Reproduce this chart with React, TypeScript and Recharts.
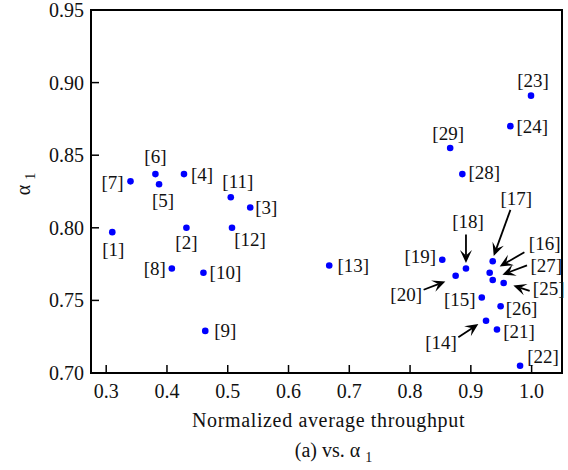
import React from 'react';
import { ScatterChart, Scatter, XAxis, YAxis, ReferenceArea } from 'recharts';

// scheme number, normalized average throughput, alpha_1
const schemeIds = [1, 2, 3, 4, 5, 6, 7, 8, 9, 10, 11, 12, 13, 14, 15, 16, 17, 18, 19, 20, 21, 22, 23, 24, 25, 26, 27, 28, 29];
const throughput = [0.310, 0.432, 0.537, 0.428, 0.387, 0.381, 0.340, 0.408, 0.463, 0.460, 0.505, 0.507, 0.667, 0.925, 0.918, 0.931, 0.936, 0.892, 0.853, 0.875, 0.943, 0.981, 0.999, 0.965, 0.954, 0.949, 0.936, 0.886, 0.866];
const alpha1 = [0.797, 0.800, 0.814, 0.837, 0.830, 0.837, 0.832, 0.772, 0.729, 0.769, 0.821, 0.800, 0.774, 0.736, 0.752, 0.769, 0.777, 0.772, 0.778, 0.767, 0.730, 0.705, 0.891, 0.870, 0.762, 0.746, 0.764, 0.837, 0.855];

const xTicks = [0.3, 0.4, 0.5, 0.6, 0.7, 0.8, 0.9, 1.0];
const yTicks = [0.70, 0.75, 0.80, 0.85, 0.90, 0.95];

// label placement (pixels from the dot) and optional arrows [x0, y0, x1, y1]
const labelPlacement: Record<number, { dx: number; dy: number; arrow?: number[] }> = {
  1: { dx: 1, dy: 17 },
  2: { dx: 0, dy: 15 },
  3: { dx: 16, dy: 0 },
  4: { dx: 18, dy: 0 },
  5: { dx: 4, dy: 16 },
  6: { dx: 0, dy: -18 },
  7: { dx: -18, dy: 1 },
  8: { dx: -17, dy: 0 },
  9: { dx: 20, dy: 0 },
  10: { dx: 22, dy: 0 },
  11: { dx: 7, dy: -16 },
  12: { dx: 18, dy: 12 },
  13: { dx: 24, dy: 0 },
  14: { dx: -45, dy: 22, arrow: [-27.7, 16.6, -7.7, 3.3] },
  15: { dx: -22, dy: 2 },
  16: { dx: 55, dy: -29, arrow: [34.7, -20.6, 10, -6.3] },
  17: { dx: 23.5, dy: -63, arrow: [17.7, -51.3, 1, -5.3] },
  18: { dx: 2, dy: -47, arrow: [0, -34, 0, -5.5] },
  19: { dx: -22, dy: -3 },
  20: { dx: -49.5, dy: 18.7, arrow: [-32, 14, -10.3, 5.7] },
  21: { dx: 22, dy: 2 },
  22: { dx: 23, dy: -9 },
  23: { dx: 2, dy: -15 },
  24: { dx: 22, dy: 0 },
  25: { dx: 45, dy: 5.3, arrow: [26, 8, 9.7, 2.5] },
  26: { dx: 21, dy: 2 },
  27: { dx: 53.5, dy: -14.7, arrow: [34.3, -14.7, 9.7, -5.4] },
  28: { dx: 22, dy: -2 },
  29: { dx: -2, dy: -14 },
};

const points = schemeIds.map((id, i) => ({ id, x: throughput[i], y: alpha1[i] }));

const serif = { fontFamily: '"Liberation Serif", "Times New Roman", Times, serif' };

const Arrow = ({ x0, y0, x1, y1 }: { x0: number; y0: number; x1: number; y1: number }) => {
  const len = Math.hypot(x1 - x0, y1 - y0);
  const ux = (x1 - x0) / len;
  const uy = (y1 - y0) / len;
  const px = -uy;
  const py = ux;
  const headLen = 13;
  const half = 6;
  const notch = 7.5;
  const bx = x1 - ux * headLen;
  const by = y1 - uy * headLen;
  const nx = x1 - ux * notch;
  const ny = y1 - uy * notch;
  return (
    <g>
      <line x1={x0} y1={y0} x2={nx} y2={ny} stroke="#000" strokeWidth={1.8} />
      <polygon
        points={`${x1},${y1} ${bx + px * half},${by + py * half} ${nx},${ny} ${bx - px * half},${by - py * half}`}
        fill="#000"
      />
    </g>
  );
};

const PointShape = (props: any) => {
  const { cx, cy, payload } = props;
  const place = labelPlacement[payload.id];
  return (
    <g>
      <circle cx={cx} cy={cy} r={3.3} fill="#0000ff" />
      <text
        x={cx + place.dx}
        y={cy + place.dy}
        dy="0.34em"
        textAnchor="middle"
        style={serif}
        fontSize={19}
        fill="#111"
      >
        [{payload.id}]
      </text>
      {place.arrow && (
        <Arrow
          x0={cx + place.arrow[0]}
          y0={cy + place.arrow[1]}
          x1={cx + place.arrow[2]}
          y1={cy + place.arrow[3]}
        />
      )}
    </g>
  );
};

const XTick = (props: any) => {
  const { x, y, payload } = props;
  return (
    <g>
      <line x1={x} y1={y} x2={x} y2={y - 8} stroke="#000" strokeWidth={1.5} />
      <text x={x} y={y + 25} textAnchor="middle" style={serif} fontSize={20} fill="#111">
        {payload.value.toFixed(1)}
      </text>
    </g>
  );
};

const YTick = (props: any) => {
  const { x, y, payload } = props;
  return (
    <g>
      <line x1={x} y1={y} x2={x + 8} y2={y} stroke="#000" strokeWidth={1.5} />
      <text x={x - 7} y={y + 7} textAnchor="end" style={serif} fontSize={20} fill="#111">
        {payload.value.toFixed(2)}
      </text>
    </g>
  );
};

const XTitle = (props: any) => {
  const vb = props.viewBox || { x: 91, y: 373, width: 471, height: 97 };
  const cx = vb.x + vb.width / 2 + 2;
  return (
    <g fill="#111">
      <text x={cx} y={vb.y + 54} textAnchor="middle" style={{ ...serif, letterSpacing: 0.65 }} fontSize={20}>
        Normalized average throughput
      </text>
      <text x={cx + 5} y={vb.y + 84} textAnchor="middle" style={serif} fontSize={20}>
        (a) vs. α <tspan fontSize={14} dy={5}>1</tspan>
      </text>
    </g>
  );
};

const YTitle = () => (
  <text
    x={0}
    y={0}
    transform="translate(30, 184) rotate(-90)"
    textAnchor="middle"
    style={serif}
    fontSize={20}
    fill="#111"
  >
    α <tspan fontSize={14} dy={5}>1</tspan>
  </text>
);

const App: React.FC = () => {
  return (
    <div style={{ position: 'absolute', left: 0, top: 0, background: '#fff' }}>
      <ScatterChart width={568} height={470} margin={{ top: 10, right: 6, bottom: 0, left: 0 }}>
        <XAxis
          type="number"
          dataKey="x"
          domain={[0.275, 1.05]}
          ticks={xTicks}
          height={97}
          axisLine={false}
          tickLine={false}
          tickSize={0}
          tickMargin={0}
          tick={<XTick />}
          label={<XTitle />}
          interval={0}
        />
        <YAxis
          type="number"
          dataKey="y"
          domain={[0.7, 0.95]}
          ticks={yTicks}
          width={91}
          axisLine={false}
          tickLine={false}
          tickSize={0}
          tickMargin={0}
          tick={<YTick />}
          label={<YTitle />}
          interval={0}
        />
        <ReferenceArea x1={0.275} x2={1.05} y1={0.7} y2={0.95} fill="none" stroke="#000" strokeWidth={2} />
        <Scatter data={points} shape={<PointShape />} isAnimationActive={false} />
      </ScatterChart>
    </div>
  );
};

export default App;
